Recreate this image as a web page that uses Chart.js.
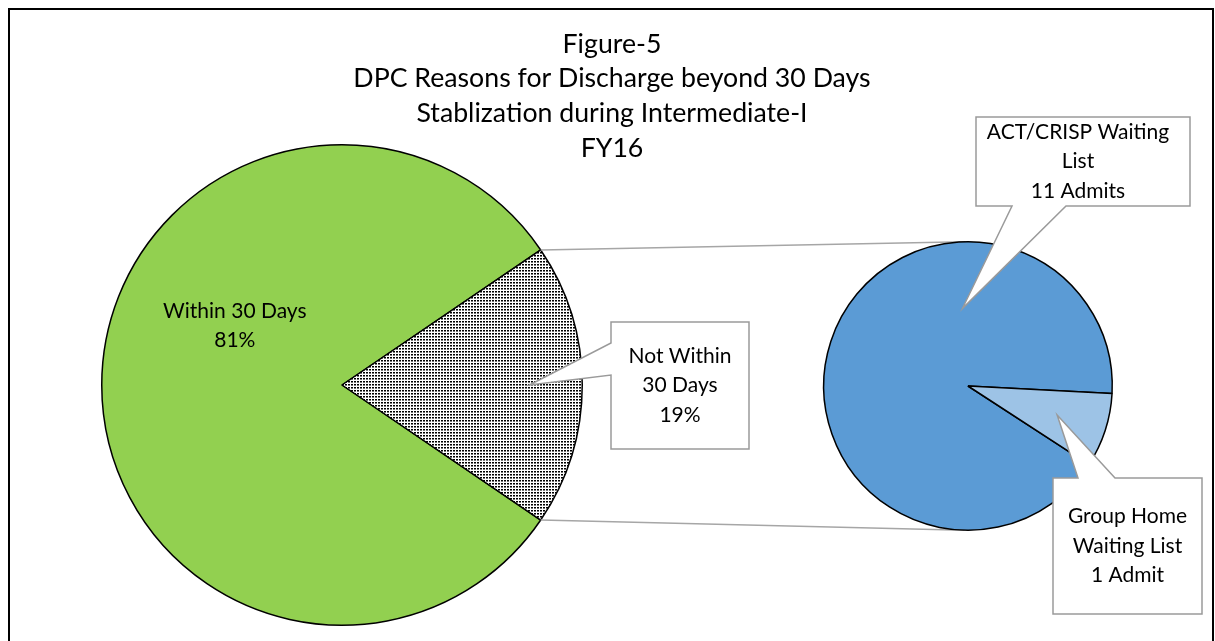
<!DOCTYPE html>
<html>
<head>
<meta charset="utf-8">
<script src="https://cdn.jsdelivr.net/npm/chart.js@4.4.1/dist/chart.umd.min.js"></script>
<style>
  html, body { margin: 0; padding: 0; background: #fff; }
  #wrap { position: relative; width: 1215px; height: 641px; }
  #wrap canvas { position: absolute; left: 0; top: 0; }
</style>
</head>
<body>
<div id="wrap">
  <canvas id="mainPie" width="1215" height="641"></canvas>
  <canvas id="splitPie" width="1215" height="641"></canvas>
</div>
<script>
// chart data
const titleLines = ['Figure-5', 'DPC Reasons for Discharge beyond 30 Days', 'Stablization during Intermediate-I', 'FY16'];
const mainLabels = ['Within 30 Days', 'Not Within\n30 Days'];
const mainValues = [81, 19];
const splitLabels = ['ACT/CRISP Waiting\nList', 'Group Home\nWaiting List'];
const splitValues = [11, 1];

// layout, pixels
const FONT = 'Lato, "Noto Sans", sans-serif';
const titleSize = 26.7, labelSize = 21, lineGap = 29.5;
const mainPad = { left: 101, top: 144, right: 632, bottom: 15 };
const splitPad = { left: 823, top: 241, right: 102, bottom: 110 };
const notWithinBox = { x1: 611, y1: 322, x2: 749, y2: 449, side: 'left', base: [343, 375], tipFrac: 0.78 };
const actBox = { x1: 976, y1: 117, x2: 1190, y2: 206, side: 'bottom', base: [1012, 1066], tipAngle: -4, tipFrac: 0.54, textDx: -5 };
const ghBox = { x1: 1053, y1: 478, x2: 1202, y2: 614, side: 'top', base: [1078, 1115], tipFrac: 0.65 };
const withinLabelPos = { angle: 299, frac: 0.51 };

const mainTotal = mainValues.reduce((a, b) => a + b, 0);
const splitTotal = splitValues.reduce((a, b) => a + b, 0);

function pct(v) { return Math.round(v / mainTotal * 100) + '%'; }
function admits(v) { return v + (v === 1 ? ' Admit' : ' Admits'); }

// dotted fill like excel's pattern
function dotPattern() {
    var c = document.createElement('canvas');
    c.width = 3; c.height = 3;
    var g = c.getContext('2d');
    g.fillStyle = '#fff';
    g.fillRect(0, 0, 3, 3);
    g.fillStyle = '#000';
    g.fillRect(0, 0, 2, 1);
    g.fillStyle = '#777';
    g.fillRect(0, 1, 2, 1);
    return g.createPattern(c, 'repeat');
}

// point on an arc, angle in degrees clockwise from 12 o'clock
function polar(arc, deg, frac) {
    var a = deg * Math.PI / 180;
    var r = arc.outerRadius * frac;
    return { x: arc.x + r * Math.sin(a), y: arc.y - r * Math.cos(a) };
}
function midDeg(arc) {
    return ((arc.startAngle + arc.endAngle) / 2) * 180 / Math.PI + 90;
}

function drawLines(ctx, lines, cx, cy) {
    ctx.save();
    ctx.fillStyle = '#000';
    ctx.font = labelSize + 'px ' + FONT;
    ctx.textAlign = 'center';
    ctx.textBaseline = 'middle';
    var y0 = cy - (lines.length - 1) * lineGap / 2;
    lines.forEach(function (t, i) { ctx.fillText(t, cx, y0 + i * lineGap); });
    ctx.restore();
}

function drawCallout(ctx, box, tip, lines) {
    var b = box.base;
    ctx.save();
    ctx.beginPath();
    ctx.moveTo(box.x1, box.y1);
    if (box.side === 'top') {
        ctx.lineTo(b[0], box.y1); ctx.lineTo(tip.x, tip.y); ctx.lineTo(b[1], box.y1);
    }
    ctx.lineTo(box.x2, box.y1);
    ctx.lineTo(box.x2, box.y2);
    if (box.side === 'bottom') {
        ctx.lineTo(b[1], box.y2); ctx.lineTo(tip.x, tip.y); ctx.lineTo(b[0], box.y2);
    }
    ctx.lineTo(box.x1, box.y2);
    if (box.side === 'left') {
        ctx.lineTo(box.x1, b[1]); ctx.lineTo(tip.x, tip.y); ctx.lineTo(box.x1, b[0]);
    }
    ctx.closePath();
    ctx.fillStyle = '#fff';
    ctx.fill();
    ctx.strokeStyle = '#9a9a9a';
    ctx.lineWidth = 1.5;
    ctx.stroke();
    ctx.restore();
    drawLines(ctx, lines, (box.x1 + box.x2) / 2 + (box.textDx || 0), (box.y1 + box.y2) / 2);
}

// tangent end point from p to the circle of arc (side -1 upper, +1 lower)
function tangentEnd(p, arc, side) {
    var dx = arc.x - p.x, dy = arc.y - p.y;
    var d = Math.sqrt(dx * dx + dy * dy);
    var r = arc.outerRadius;
    var ang = Math.atan2(dy, dx) + side * Math.asin(r / d);
    var len = Math.sqrt(d * d - r * r);
    return { x: p.x + len * Math.cos(ang), y: p.y + len * Math.sin(ang) };
}

var framePlugin = {
    id: 'frame',
    beforeDraw: function (chart) {
        var ctx = chart.ctx;
        ctx.save();
        ctx.strokeStyle = '#000';
        ctx.lineWidth = 2;
        ctx.strokeRect(9, 9, 1204, 700);
        ctx.restore();
    },
    afterDraw: function (chart) {
        var ctx = chart.ctx;
        ctx.save();
        ctx.fillStyle = '#000';
        ctx.font = titleSize + 'px ' + FONT;
        ctx.textAlign = 'center';
        ctx.textBaseline = 'middle';
        titleLines.forEach(function (t, i) { ctx.fillText(t, 612, 44 + i * 34.7); });
        ctx.restore();
    }
};

var mainLabelPlugin = {
    id: 'mainLabels',
    afterDatasetsDraw: function (chart) {
        var ctx = chart.ctx;
        var arcs = chart.getDatasetMeta(0).data;
        var p = polar(arcs[0], withinLabelPos.angle, withinLabelPos.frac);
        drawLines(ctx, [mainLabels[0], pct(mainValues[0])], p.x, p.y);
        var tip = polar(arcs[1], midDeg(arcs[1]), notWithinBox.tipFrac);
        drawCallout(ctx, notWithinBox, tip, mainLabels[1].split('\n').concat([pct(mainValues[1])]));
    }
};

var mainChart = new Chart(document.getElementById('mainPie'), {
    type: 'pie',
    data: {
        labels: mainLabels,
        datasets: [{
            data: mainValues,
            backgroundColor: ['#92d050', dotPattern()],
            borderColor: '#000',
            borderWidth: 1.5
        }]
    },
    options: {
        responsive: false,
        animation: false,
        rotation: 90 + mainValues[1] / mainTotal * 180,
        layout: { padding: mainPad },
        plugins: { legend: { display: false }, tooltip: { enabled: false } }
    },
    plugins: [framePlugin, mainLabelPlugin]
});

var splitPlugin = {
    id: 'splitExtras',
    beforeDatasetsDraw: function (chart) {
        var ctx = chart.ctx;
        var slice = mainChart.getDatasetMeta(0).data[1];
        var circle = chart.getDatasetMeta(0).data[0];
        var r = slice.outerRadius;
        var top = { x: slice.x + r * Math.cos(slice.startAngle), y: slice.y + r * Math.sin(slice.startAngle) };
        var bot = { x: slice.x + r * Math.cos(slice.endAngle), y: slice.y + r * Math.sin(slice.endAngle) };
        var t2 = tangentEnd(top, circle, -1);
        var b2 = tangentEnd(bot, circle, 1);
        ctx.save();
        ctx.strokeStyle = '#a6a6a6';
        ctx.lineWidth = 1.5;
        ctx.beginPath();
        ctx.moveTo(top.x, top.y); ctx.lineTo(t2.x, t2.y);
        ctx.moveTo(bot.x, bot.y); ctx.lineTo(b2.x, b2.y);
        ctx.stroke();
        ctx.restore();
    },
    afterDraw: function (chart) {
        var ctx = chart.ctx;
        var arcs = chart.getDatasetMeta(0).data;
        var tipA = polar(arcs[0], actBox.tipAngle, actBox.tipFrac);
        drawCallout(ctx, actBox, tipA, splitLabels[0].split('\n').concat([admits(splitValues[0])]));
        var tipB = polar(arcs[1], midDeg(arcs[1]), ghBox.tipFrac);
        drawCallout(ctx, ghBox, tipB, splitLabels[1].split('\n').concat([admits(splitValues[1])]));
    }
};

var splitChart = new Chart(document.getElementById('splitPie'), {
    type: 'pie',
    data: {
        labels: splitLabels,
        datasets: [{
            data: splitValues,
            backgroundColor: ['#5b9bd5', '#9dc3e6'],
            borderColor: '#000',
            borderWidth: 1.5
        }]
    },
    options: {
        responsive: false,
        animation: false,
        rotation: 93 + splitValues[1] / splitTotal * 360,
        layout: { padding: splitPad },
        plugins: { legend: { display: false }, tooltip: { enabled: false } }
    },
    plugins: [splitPlugin]
});
</script>
</body>
</html>
